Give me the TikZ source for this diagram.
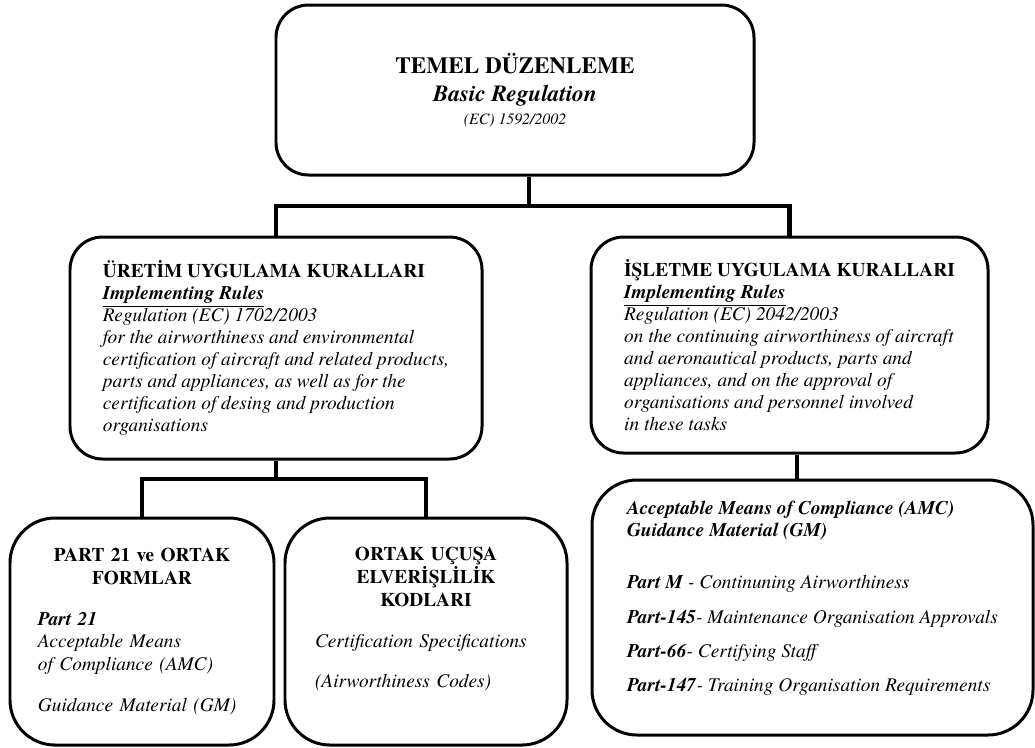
\documentclass[tikz,border=0pt]{standalone}
\usepackage{fontspec}
\setmainfont{TeX Gyre Termes}
\usetikzlibrary{calc, positioning}
\tikzset{
  regbox/.style={draw=black, fill=white, line width=1.7pt, rounded corners=0.65cm, inner sep=0pt, font=\fontsize{11}{12.5}\selectfont},
  lowbox/.style={regbox, rounded corners=0.9cm, font=\fontsize{11}{13}\selectfont},
  link/.style={draw=black, line width=2.3pt},
}

\begin{document}
\begin{tikzpicture}
\useasboundingbox (0,0) rectangle (20.7,-14.94);

\node[regbox, align=center, minimum width=9.56cm, minimum height=3.4cm, font=\fontsize{13.2}{16}\selectfont] (temel) at (10.3,-1.8)
  {\textbf{TEMEL DÜZENLEME}\\ \textbf{\textit{Basic Regulation}}\\[-3pt] {\fontsize{9}{11}\selectfont\textit{(EC) 1592/2002}}};

\node[regbox, align=left, minimum width=8.24cm, minimum height=4.44cm] (uretim) at (5.52,-6.96)
  {\textbf{ÜRETİM UYGULAMA KURALLARI}\\
   \underline{\textbf{\textit{Implementing Rules}}}\\
   \textit{Regulation (EC) 1702/2003}\\
   \textit{for the airworthiness and environmental}\\
   \textit{certification of aircraft and related products,}\\
   \textit{parts and appliances, as well as for the}\\
   \textit{certification of desing and production}\\
   \textit{organisations}};

\node[regbox, align=left, minimum width=7.94cm, minimum height=4.32cm] (isletme) at (15.79,-6.9)
  {\textbf{İŞLETME UYGULAMA KURALLARI}\\
   \underline{\textbf{\textit{Implementing Rules}}}\\
   \textit{Regulation (EC) 2042/2003}\\
   \textit{on the continuing airworthiness of aircraft}\\
   \textit{and aeronautical products, parts and}\\
   \textit{appliances, and on the approval of}\\
   \textit{organisations and personnel involved}\\
   \textit{in these tasks}};

\node[lowbox, align=left, text width=4.16cm, minimum width=5.28cm, minimum height=4.54cm] (part) at (2.84,-12.63)
  {{\centering\bfseries PART 21 ve ORTAK\\FORMLAR\par}\vspace{10pt}
   \textbf{\textit{Part 21}}\\
   \textit{Acceptable Means}\\
   \textit{of Compliance (AMC)}\\[10pt]
   \textit{Guidance Material (GM)}};

\node[lowbox, align=left, text width=4.44cm, minimum width=5.64cm, minimum height=4.54cm] (kodlar) at (8.52,-12.63)
  {{\centering\bfseries ORTAK UÇUŞA\\ELVERİŞLİLİK\\KODLARI\par}\vspace{10pt}
   \textit{Certification Specifications}\\[10pt]
   \textit{(Airworthiness Codes)}\rule[-0.56cm]{0pt}{0pt}};

\node[lowbox, align=left, minimum width=8.82cm, minimum height=5.1cm, font=\fontsize{11}{12.5}\selectfont] (amc) at (16.25,-12.15)
  {\textbf{\textit{Acceptable Means of Compliance (AMC)}}\\
   \textbf{\textit{Guidance Material (GM)}}\\[17pt]
   \textbf{\textit{Part M}} \textit{- Continuning Airworthiness}\\[7pt]
   \textbf{\textit{Part-145}}\textit{- Maintenance Organisation Approvals}\\[7pt]
   \textbf{\textit{Part-66}}\textit{- Certifying Staff}\\[7pt]
   \textbf{\textit{Part-147}}\textit{- Training Organisation Requirements}\rule[-0.44cm]{0pt}{0pt}};

% connectors
\coordinate (busa) at (10.58,-4.12);
\coordinate (busb) at (5.52,-9.58);
\coordinate (busc) at (15.94,-9.3);
\draw[link] (temel.south -| busa) -- (busa);
\draw[link] (uretim.north) |- (busa) -| (isletme.north);
\draw[link] (uretim.south) -- (busb);
\draw[link] (part.north) |- (busb) -| (kodlar.north);
\draw[link] (busc |- isletme.south) -- (busc |- amc.north);

\end{tikzpicture}
\end{document}
